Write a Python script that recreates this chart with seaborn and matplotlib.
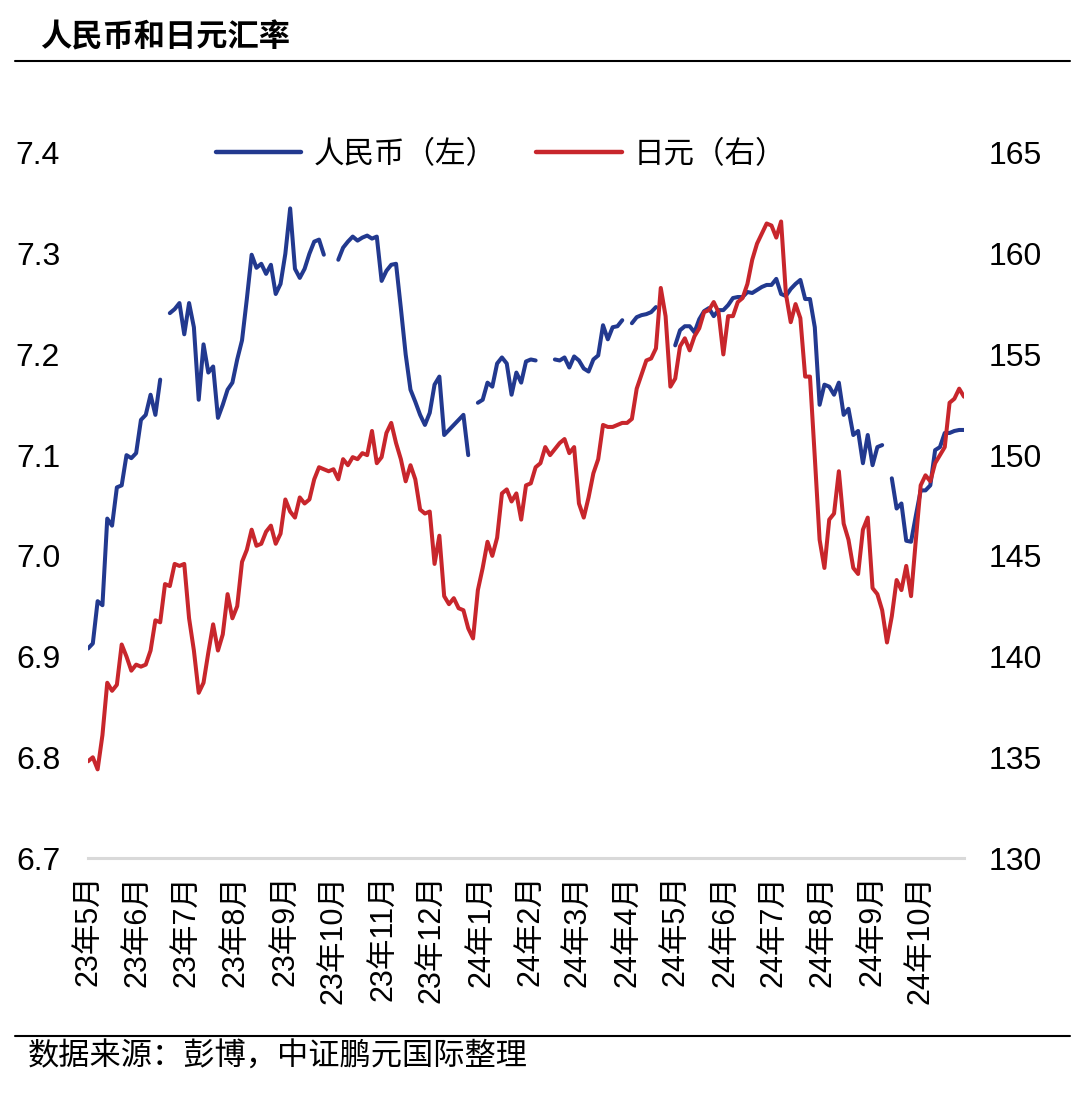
import numpy as np
import pandas as pd
import seaborn as sns
import matplotlib.pyplot as plt
from matplotlib.lines import Line2D

nan = np.nan

# 3-day sampling
dates = pd.date_range("2023-05-01", periods=183, freq="3D")

cny = [
    6.908, 6.913, 6.955, 6.951, 7.037, 7.030, 7.068, 7.070, 7.100, 7.097,
    7.102, 7.135, 7.140, 7.160, 7.140, 7.175, nan, 7.241, 7.245, 7.251,
    7.220, 7.251, 7.227, 7.155, 7.210, 7.182, 7.188, 7.137, 7.150, 7.165,
    7.172, 7.195, 7.214, 7.255, 7.299, 7.286, 7.290, 7.280, 7.289, 7.260,
    7.270, 7.300, 7.345, 7.285, 7.276, 7.285, 7.300, 7.312, 7.314, 7.299,
    nan, nan, 7.294, 7.306, 7.312, 7.317, 7.313, 7.316, 7.318, 7.315,
    7.317, 7.273, 7.283, 7.289, 7.290, 7.246, 7.200, 7.165, 7.153, 7.140,
    7.130, 7.142, 7.170, 7.178, 7.120, 7.125, 7.130, 7.135, 7.140, 7.100,
    nan, 7.152, 7.155, 7.172, 7.168, 7.191, 7.197, 7.191, 7.160, 7.182,
    7.172, 7.193, 7.195, 7.194, nan, nan, nan, 7.195, 7.194, 7.197,
    7.187, 7.198, 7.194, 7.186, 7.183, 7.195, 7.199, 7.229, 7.215, 7.227,
    7.228, 7.234, nan, 7.231, 7.237, 7.239, 7.240, 7.242, 7.247, nan,
    nan, nan, 7.209, 7.224, 7.228, 7.228, 7.222, 7.235, 7.243, 7.246,
    7.238, 7.244, 7.244, 7.249, 7.256, 7.257, 7.257, 7.262, 7.261, 7.264,
    7.267, 7.269, 7.269, 7.275, 7.260, 7.258, 7.265, 7.270, 7.274, 7.255,
    7.255, 7.227, 7.150, 7.170, 7.168, 7.160, 7.172, 7.140, 7.146, 7.120,
    7.124, 7.092, 7.120, 7.090, 7.108, 7.110, nan, 7.077, 7.047, 7.052,
    7.015, 7.014, 7.040, 7.065, 7.065, 7.070, 7.105, 7.108, 7.122, 7.122,
    7.124, 7.125, 7.125,
]

jpy = [
    134.8, 135.0, 134.4, 136.1, 138.7, 138.3, 138.6, 140.6, 140.0, 139.3,
    139.6, 139.5, 139.6, 140.3, 141.8, 141.7, 143.6, 143.5, 144.6, 144.5,
    144.6, 141.9, 140.3, 138.2, 138.7, 140.2, 141.6, 140.3, 141.1, 143.1,
    141.9, 142.5, 144.7, 145.3, 146.3, 145.5, 145.6, 146.2, 146.5, 145.6,
    146.1, 147.8, 147.2, 146.9, 147.9, 147.6, 147.8, 148.8, 149.4, 149.3,
    149.2, 149.3, 148.8, 149.8, 149.5, 149.9, 149.8, 150.1, 150.0, 151.2,
    149.6, 149.9, 151.1, 151.6, 150.6, 149.8, 148.7, 149.5, 148.8, 147.3,
    147.1, 147.2, 144.6, 146.0, 143.0, 142.6, 142.9, 142.4, 142.3, 141.4,
    140.9, 143.3, 144.4, 145.7, 145.0, 145.9, 148.1, 148.3, 147.7, 148.1,
    146.8, 148.5, 148.6, 149.4, 149.6, 150.4, 150.0, 150.3, 150.6, 150.8,
    150.1, 150.4, 147.6, 146.9, 147.9, 149.1, 149.8, 151.5, 151.4, 151.4,
    151.5, 151.6, 151.6, 151.8, 153.3, 154.0, 154.7, 154.8, 155.3, 158.3,
    156.9, 153.4, 153.8, 155.4, 155.8, 155.2, 155.9, 156.3, 157.1, 157.2,
    157.6, 157.1, 155.0, 156.9, 156.9, 157.6, 157.8, 158.5, 159.7, 160.5,
    161.0, 161.5, 161.4, 160.8, 161.6, 158.0, 156.6, 157.5, 156.8, 153.9,
    153.9, 149.9, 145.8, 144.4, 146.8, 147.1, 149.2, 146.6, 145.8, 144.4,
    144.1, 146.3, 146.9, 143.4, 143.1, 142.3, 140.7, 142.0, 143.8, 143.3,
    144.5, 143.0, 145.8, 148.5, 149.0, 148.7, 149.6, 150.0, 150.4, 152.6,
    152.8, 153.3, 152.9,
]

month_ticks = pd.date_range("2023-05-01", "2024-10-01", freq="MS")
month_labels = [f"{d.year % 100}年{d.month}月" for d in month_ticks]
cny_ticks = [6.7, 6.8, 6.9, 7.0, 7.1, 7.2, 7.3, 7.4]
jpy_ticks = [130, 135, 140, 145, 150, 155, 160, 165]

BLUE = "#22398f"
RED = "#c8262c"

sns.set_style("white")
plt.rcParams["font.family"] = ["Liberation Sans", "Noto Sans CJK SC"]
plt.rcParams["text.color"] = "black"
plt.rcParams["xtick.color"] = "black"
plt.rcParams["ytick.color"] = "black"

df = pd.DataFrame({"date": dates, "cny": cny, "jpy": jpy})
# break the lines where data is missing
df["cny_seg"] = df["cny"].isna().cumsum()
df["jpy_seg"] = df["jpy"].isna().cumsum()

W, H = 1080, 1101
fig = plt.figure(figsize=(W / 100, H / 100), dpi=100)
ax = fig.add_axes([88 / W, 1 - 858 / H, (964 - 88) / W, (858 - 153) / H])
ax2 = ax.twinx()

sns.lineplot(data=df.dropna(subset=["cny"]), x="date", y="cny", units="cny_seg",
             estimator=None, color=BLUE, lw=2.9, ax=ax)
sns.lineplot(data=df.dropna(subset=["jpy"]), x="date", y="jpy", units="jpy_seg",
             estimator=None, color=RED, lw=2.9, ax=ax2)

ax.set_xlim(dates[0], dates[-1])
ax.set_ylim(6.7, 7.4)
ax2.set_ylim(130, 165)

for a in (ax, ax2):
    for s in a.spines.values():
        s.set_visible(False)
    a.grid(False)
    a.set_xlabel("")
    a.set_ylabel("")
ax.spines["bottom"].set_visible(True)
ax.spines["bottom"].set_color("#d9d9d9")
ax.spines["bottom"].set_linewidth(2.2)

ax.set_yticks(cny_ticks)
ax.set_yticklabels([f"{v:.1f}" for v in cny_ticks])
ax2.set_yticks(jpy_ticks)
ax2.set_yticklabels([str(v) for v in jpy_ticks])
ax.tick_params(axis="y", length=0, pad=20, labelsize=23)
ax2.tick_params(axis="y", length=0, pad=18, labelsize=23)

ax.set_xticks(month_ticks)
ax.set_xticklabels(month_labels, rotation=90, va="top", ha="center", fontsize=22)
ax.tick_params(axis="x", length=0, pad=12)

handles = [Line2D([], [], color=BLUE, lw=3.2), Line2D([], [], color=RED, lw=3.2)]
fig.legend(handles, ["人民币（左）", "日元（右）"], loc="center",
           bbox_to_anchor=(501 / W, 1 - 155 / H), ncol=2, frameon=False,
           fontsize=22, handlelength=2.8, handletextpad=0.4, columnspacing=1.3)

fig.text(40 / W, 1 - 38 / H, "人民币和日元汇率", fontsize=22.5, fontweight="bold",
         ha="left", va="center")
fig.add_artist(Line2D([15 / W, 1070 / W], [1 - 61 / H] * 2, color="black", lw=1.5,
                      transform=fig.transFigure))
fig.add_artist(Line2D([15 / W, 1070 / W], [1 - 1036 / H] * 2, color="black", lw=1.5,
                      transform=fig.transFigure))
fig.text(28 / W, 1 - 1058 / H, "数据来源：彭博，中证鹏元国际整理", fontsize=22.5,
         ha="left", va="center")

fig.savefig("out.png", dpi=100)
